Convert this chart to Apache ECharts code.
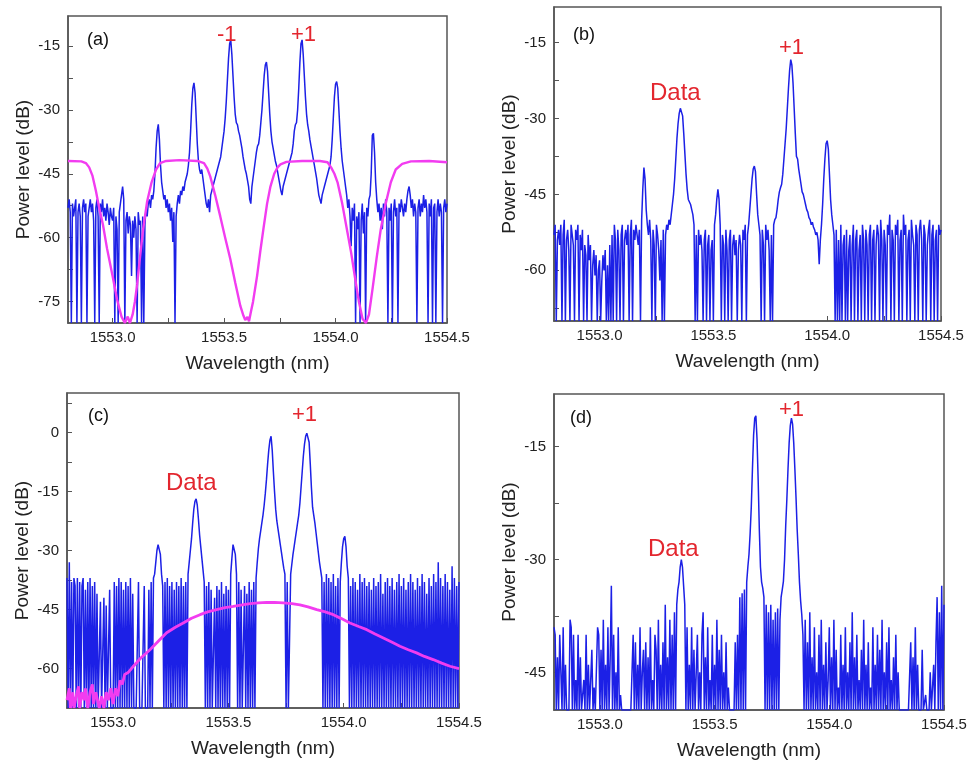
<!DOCTYPE html>
<html><head><meta charset="utf-8">
<script src="https://cdn.jsdelivr.net/npm/echarts@6/dist/echarts.min.js"></script>
<style>html,body{margin:0;padding:0;background:#fff}#c{width:973px;height:765px}</style>
</head><body><div id="c"></div>
<script>
// Wavelength grid of the sampled spectra (nm)
const lambdaStart = 1552.8, lambdaStep = 0.005;
const xLabelValues = [1553.0, 1553.5, 1554.0, 1554.5];
const xTickValues = [1553.0, 1553.25, 1553.5, 1553.75, 1554.0, 1554.25, 1554.5];

// (a) measured spectrum, dB, one value per 0.005 nm from 1552.800
const spectrumA = [
-53,-51,-54,-80,-52,-55,-53,-51,-80,-54,-52,-55,-80,-53,-51,-54,-52,-80,-55,-53,
-51,-54,-52,-56,-80,-53,-51,-55,-80,-52,-54,-51,-55,-53,-56,-52,-54,-57,-53,-55,
-56,-53,-80,-55,-58,-80,-54,-52,-50,-48,-51,-80,-56,-54,-59,-55,-57,-69,-56,-60,
-55,-58,-80,-54,-57,-56,-80,-55,-80,-57,-53,-55,-52,-51,-53,-50,-51,-49,-45,-39,
-35,-33.4,-37,-43,-47,-49,-51,-50,-53,-51,-54,-52,-56,-53,-61,-54,-80,-55,-52,-50,
-52,-49,-50,-48,-49,-47,-46,-45,-43,-40,-35,-29,-25,-23.7,-26,-32,-38,-42,-44,-45,
-44,-46,-48,-50,-52,-53,-51,-54,-50,-49,-48,-47,-46,-45,-44,-43,-42,-41,-39,-37,
-35,-32,-28,-23,-18,-14.5,-13.6,-17,-22,-27,-31,-33,-33.5,-35,-36,-37.5,-39,-41,-42.5,-44,
-45,-46.5,-48,-51,-52,-48,-46,-44,-42,-40,-38.5,-38,-36,-33,-30,-26,-22,-19.5,-18.8,-21,
-26,-31,-35,-37.5,-39,-40.5,-42,-43,-44.5,-46,-47.5,-49,-50,-48,-47,-46,-45,-44,-43,-42,
-41,-40,-38,-35,-33.5,-33,-30,-25,-19,-14.5,-13.6,-17,-22,-27,-31,-33.5,-35,-37,-38.5,-40,
-41.5,-43,-44.5,-46,-48,-50,-51,-52,-50,-49,-48,-47,-46,-45,-44,-43,-41,-37,-32,-27,
-24,-23.4,-25,-30,-35,-39,-42,-44,-46,-48,-50,-53,-51,-55,-62,-53,-56,-52,-80,-55,
-58,-54,-80,-56,-52,-59,-54,-80,-53,-55,-51,-50,-45,-36,-35.5,-40,-47,-51,-54,-52,
-56,-53,-58,-52,-55,-51,-54,-80,-53,-56,-52,-80,-54,-51,-55,-53,-80,-52,-54,-51,
-53,-55,-52,-54,-51,-49,-48,-50,-53,-51,-55,-52,-54,-80,-53,-51,-55,-52,-54,-50,
-53,-51,-54,-80,-52,-55,-51,-80,-53,-52,-80,-54,-51,-55,-52,-54,-80,-53,-51,-54,
-52];

// (a) filter transmission [nm, dB]
const filterA = [[1552.80,-42],[1552.86,-42.1],[1552.88,-42.5],[1552.895,-43.5],[1552.91,-45.5],[1552.925,-49],[1552.94,-53],[1552.957,-57],[1552.975,-62.5],[1553.0,-69],[1553.02,-74.5],[1553.04,-78.5],[1553.055,-80],[1553.068,-78.5],[1553.078,-80],[1553.09,-78],[1553.1,-75],[1553.11,-71],[1553.12,-66],[1553.137,-58],[1553.155,-51.5],[1553.175,-47],[1553.195,-44],[1553.213,-42.5],[1553.24,-42],[1553.30,-41.8],[1553.38,-42],[1553.41,-42.5],[1553.425,-43.8],[1553.438,-45.6],[1553.46,-50],[1553.483,-55],[1553.505,-60],[1553.528,-65],[1553.55,-70.5],[1553.573,-76],[1553.585,-78],[1553.595,-79.3],[1553.605,-78.6],[1553.612,-79.6],[1553.62,-77.5],[1553.63,-75],[1553.648,-69],[1553.663,-63],[1553.678,-57.4],[1553.693,-52],[1553.708,-48],[1553.725,-45],[1553.74,-43.5],[1553.753,-42.8],[1553.78,-42.2],[1553.85,-42],[1553.93,-42],[1553.964,-42.3],[1553.98,-43.5],[1553.995,-45],[1554.009,-47],[1554.03,-52],[1554.054,-58.9],[1554.07,-63.5],[1554.091,-70.6],[1554.105,-75],[1554.121,-79],[1554.136,-80],[1554.15,-78],[1554.166,-72],[1554.185,-64.5],[1554.203,-58],[1554.225,-52],[1554.248,-47],[1554.27,-44],[1554.299,-42.7],[1554.338,-42.1],[1554.42,-42],[1554.5,-42.3]];

// (b) measured spectrum
const spectrumB = [
-53,-51,-70,-54,-52,-55,-51,-70,-53,-50,-70,-54,-52,-56,-70,-51,-53,-55,-70,-52,
-54,-51,-70,-53,-56,-52,-70,-55,-57,-70,-53,-58,-55,-70,-59,-56,-61,-57,-70,-60,
-58,-70,-62,-57,-60,-56,-70,-59,-70,-55,-70,-53,-70,-51,-54,-70,-52,-56,-70,-53,
-51,-70,-54,-52,-55,-51,-70,-53,-50,-70,-52,-54,-51,-53,-55,-52,-70,-50,-44,-39.7,
-42,-48,-51,-53,-50,-54,-70,-52,-55,-70,-51,-53,-56,-62,-54,-70,-52,-70,-53,-51,
-52,-50,-51,-49,-47,-45,-42,-38,-34,-31,-29,-28,-27.8,-29.5,-33,-37,-41,-44,-46,-46.3,
-47,-48,-49,-51,-70,-53,-70,-52,-55,-53,-56,-70,-54,-52,-70,-55,-53,-70,-56,-54,
-70,-51,-49,-46,-44,-46,-51,-70,-53,-55,-70,-52,-56,-70,-54,-52,-70,-55,-53,-57,
-54,-70,-56,-53,-55,-70,-52,-54,-51,-70,-53,-51,-48,-45,-42,-40,-39.4,-40.5,-45,-49,
-51,-53,-70,-52,-55,-70,-51,-54,-52,-56,-70,-53,-70,-51,-50,-49.6,-48,-46,-44.5,-43.7,
-43,-41,-38,-35,-32,-28,-24,-20.5,-18.4,-19.5,-23,-28,-33,-37.5,-38,-40,-41.5,-43,-44.5,-45,
-46,-47,-48,-48.5,-49.6,-50,-51,-50.5,-51.5,-52,-53,-52.5,-54,-58.8,-54,-51,-47,-42,-38,-35,
-34.4,-36,-41,-46,-49,-51,-53,-70,-52,-70,-54,-70,-51,-70,-55,-53,-70,-52,-70,-56,
-53,-70,-55,-51,-70,-54,-52,-70,-56,-53,-70,-51,-54,-70,-52,-55,-70,-53,-51,-70,
-54,-52,-70,-55,-51,-53,-70,-50,-54,-70,-52,-55,-70,-51,-53,-49,-70,-52,-54,-70,
-51,-53,-50,-70,-54,-52,-70,-49,-53,-51,-70,-54,-52,-70,-50,-53,-55,-70,-51,-53,
-70,-52,-50,-54,-70,-51,-53,-70,-55,-52,-50,-70,-53,-51,-70,-54,-52,-70,-51,-53,
-52];

// (c) measured spectrum
const spectrumC = [
-37,-70,-33,-70,-38,-70,-37,-39,-70,-37,-70,-38,-70,-39,-37,-70,-40,-70,-38,-70,
-37,-70,-39,-70,-38,-70,-41,-70,-70,-43,-70,-70,-42,-70,-44,-70,-70,-40,-70,-70,
-70,-38,-70,-39,-70,-37,-70,-38,-70,-40,-70,-38,-70,-39,-70,-37,-70,-41,-70,-70,
-70,-70,-38,-70,-70,-70,-70,-39,-70,-70,-70,-40,-70,-38,-70,-37,-36,-33,-30,-28.5,
-28.5,-31,-36,-39,-70,-38,-70,-37,-70,-39,-70,-38,-70,-40,-70,-38,-70,-39,-70,-37,
-70,-39,-70,-38,-70,-36,-33,-30,-27,-23,-19.5,-17.5,-16.9,-18.5,-22,-26,-29,-32,-35,-38,
-70,-39,-70,-38,-70,-40,-70,-70,-42,-70,-39,-70,-40,-70,-38,-70,-41,-70,-39,-70,
-40,-70,-36,-32,-28.5,-28,-31,-36,-70,-38,-70,-40,-70,-70,-39,-70,-41,-70,-38,-70,
-40,-70,-38,-70,-37,-33,-29.5,-27,-25,-23,-21,-18.5,-15.5,-12,-8,-4.5,-2,-1,-4.5,-10,
-15,-19.5,-22.5,-24.5,-26.5,-28.5,-30.5,-32.5,-34.5,-36,-70,-38,-70,-70,-36,-33.5,-31,-29,-27,-25,
-23,-21,-18,-14,-10,-6,-3,-1,-0.2,0,-2.5,-8,-14,-19,-21,-23,-25.5,-28,-30.5,-33,
-35,-37,-70,-38,-70,-36,-70,-37,-70,-38,-70,-36,-70,-39,-70,-37,-70,-38,-33,-29,
-27,-26.4,-29,-34,-37,-70,-39,-70,-37,-70,-38,-70,-40,-70,-36,-70,-38,-70,-37,-70,
-39,-70,-38,-70,-40,-70,-37,-70,-39,-70,-38,-70,-36,-70,-41,-70,-38,-70,-37,-70,
-39,-70,-37,-70,-40,-70,-38,-70,-36,-70,-39,-70,-37,-70,-40,-70,-38,-70,-36,-70,
-38,-70,-40,-70,-37,-70,-39,-70,-36,-70,-38,-70,-41,-70,-37,-70,-39,-70,-36,-70,
-38,-70,-33,-70,-37,-70,-39,-70,-36,-70,-38,-70,-40,-70,-34,-70,-37,-70,-39,-70,
-38];

// (c) pump / filter curve [nm, dB]
const filterC = [[1552.80,-68],[1552.81,-65],[1552.815,-70],[1552.825,-66],[1552.83,-70],[1552.84,-67],[1552.85,-64.5],[1552.855,-70],[1552.865,-66],[1552.875,-68],[1552.88,-65],[1552.89,-70],[1552.9,-66],[1552.91,-64],[1552.915,-69],[1552.925,-66],[1552.94,-70],[1552.95,-67],[1552.96,-70],[1552.97,-66],[1552.98,-68],[1552.99,-65],[1553.0,-69],[1553.01,-65],[1553.02,-67],[1553.03,-63],[1553.04,-64],[1553.05,-61.5],[1553.065,-61],[1553.088,-59.4],[1553.12,-57.3],[1553.16,-55.2],[1553.2,-52.8],[1553.232,-50.9],[1553.27,-49.5],[1553.304,-48.4],[1553.34,-47.2],[1553.377,-46.3],[1553.41,-45.6],[1553.449,-45],[1553.485,-44.5],[1553.521,-44.2],[1553.56,-43.8],[1553.594,-43.5],[1553.63,-43.3],[1553.666,-43.2],[1553.7,-43.2],[1553.738,-43.3],[1553.775,-43.5],[1553.81,-43.8],[1553.845,-44.3],[1553.883,-45],[1553.92,-45.6],[1553.955,-46.3],[1553.99,-47.3],[1554.027,-48.4],[1554.065,-49.3],[1554.1,-50.1],[1554.136,-51.2],[1554.172,-52.2],[1554.21,-53.3],[1554.244,-54.3],[1554.28,-55.2],[1554.316,-56],[1554.35,-56.9],[1554.388,-57.7],[1554.425,-58.6],[1554.461,-59.4],[1554.5,-60]];

// (d) measured spectrum
const spectrumD = [
-39,-40,-50,-43,-50,-40,-45,-50,-39,-50,-44,-50,-50,-50,-38,-39,-50,-40,-50,-46,
-50,-40,-50,-43,-50,-50,-46,-50,-40,-50,-44,-50,-50,-42,-50,-47,-50,-50,-39,-40,
-50,-42,-50,-38,-50,-44,-50,-39,-50,-43,-33.5,-50,-40,-50,-45,-50,-39,-50,-48,-50,
-50,-50,-50,-50,-50,-50,-50,-50,-50,-40,-50,-41,-50,-44,-50,-39,-50,-45,-42,-50,
-41,-50,-43,-50,-39,-50,-46,-50,-40,-42,-50,-38,-50,-44,-50,-41,-50,-36,-50,-43,
-50,-38,-50,-40,-50,-37,-50,-36,-34,-33,-31,-30,-31,-33.5,-36,-50,-39,-50,-44,-50,
-39,-50,-42,-50,-50,-40,-50,-45,-50,-40,-37,-50,-43,-50,-39,-50,-46,-50,-40,-50,
-44,-50,-38,-50,-42,-50,-40,-50,-45,-50,-41,-50,-47,-50,-50,-50,-50,-50,-41,-50,
-40,-50,-35,-50,-34.5,-50,-34,-50,-33,-31,-29.3,-26.5,-23,-18,-13.5,-11.2,-10.9,-14,-19.5,-26,
-31,-33,-33.8,-35,-50,-36,-50,-37,-50,-36,-50,-38,-50,-37,-50,-36.5,-50,-38,-35,-34,
-32.9,-30,-25.5,-22,-18,-14.5,-12.2,-11.2,-12,-14.5,-18,-21.8,-26,-29.3,-33,-35.5,-37.3,-40,-50,-38,
-50,-41,-50,-37,-50,-43,-50,-39,-50,-45,-50,-40,-50,-38,-50,-44,-50,-41,-50,-46,
-39,-50,-43,-50,-38,-50,-42,-50,-47,-50,-40,-50,-44,-50,-39,-50,-45,-50,-41,-50,
-37,-50,-43,-50,-40,-50,-46,-50,-42,-50,-38,-50,-44,-50,-41,-50,-47,-50,-39,-50,
-44,-50,-40,-50,-42,-50,-38,-50,-45,-50,-41,-50,-39,-50,-46,-50,-43,-50,-40,-50,
-45,-50,-50,-50,-50,-50,-50,-50,-50,-50,-50,-41,-50,-43,-50,-39,-50,-44,-50,-50,
-50,-42,-50,-50,-48,-50,-50,-50,-45,-50,-50,-44,-50,-41,-35,-50,-37,-50,-33.5,-50,
-36];

// Y-axis ranges and tick labels per panel
const yRanges = [[-80,-8],[-70,-8],[-70,10],[-50,-8]];
const yLabelValues = [[-75,-60,-45,-30,-15],[-60,-45,-30,-15],[-60,-45,-30,-15,0],[-45,-30,-15]];
const yTickValues = [
  [-75,-67.5,-60,-52.5,-45,-37.5,-30,-22.5,-15],
  [-67.5,-60,-52.5,-45,-37.5,-30,-22.5,-15],
  [-67.5,-60,-52.5,-45,-37.5,-30,-22.5,-15,-7.5,0,7.5],
  [-45,-37.5,-30,-22.5,-15]
];
const panelLetters = ['(a)','(b)','(c)','(d)'];

const FONT = '"Liberation Sans", Arial, sans-serif';
const BLUE = '#1c20e6', MAGENTA = '#f23cf0', RED = '#e3262e';
const grids = [
  {left:68, top:16, width:379, height:307},
  {left:554, top:7, width:387, height:314},
  {left:67, top:393, width:392, height:315},
  {left:554, top:394, width:390, height:316}
];
function toPts(arr){ return arr.map((v,i)=>[+(lambdaStart + i*lambdaStep).toFixed(3), v]); }

const xAxis = [], yAxis = [];
grids.forEach((g,k)=>{
  xAxis.push({
    type:'value', gridIndex:k, min:1552.8, max:1554.5,
    name:'Wavelength (nm)', nameLocation:'middle', nameGap:31,
    nameTextStyle:{fontSize:19, fontFamily:FONT, color:'#222'},
    axisLine:{show:true, onZero:false, lineStyle:{color:'#555', width:1.5}},
    axisTick:{show:true, inside:true, length:5, customValues:xTickValues, lineStyle:{color:'#555'}},
    axisLabel:{customValues:xLabelValues, formatter:v=>Number(v).toFixed(1), fontSize:15, fontFamily:FONT, color:'#222', margin:7},
    splitLine:{show:false}
  });
  yAxis.push({
    type:'value', gridIndex:k, min:yRanges[k][0], max:yRanges[k][1],
    name:'Power level (dB)', nameLocation:'middle', nameGap:35, nameRotate:90,
    nameTextStyle:{fontSize:19, fontFamily:FONT, color:'#222'},
    axisLine:{show:true, onZero:false, lineStyle:{color:'#555', width:1.5}},
    axisTick:{show:true, inside:true, length:5, customValues:yTickValues[k], lineStyle:{color:'#555'}},
    axisLabel:{customValues:yLabelValues[k], fontSize:15, fontFamily:FONT, color:'#222', margin:8},
    splitLine:{show:false}
  });
});

function line(data, k, color, width, z){
  return {type:'line', xAxisIndex:k, yAxisIndex:k, data:data, symbol:'none', showSymbol:false,
    lineStyle:{color:color, width:width}, clip:true, z:z, silent:true, animation:false};
}
const series = [
  line(toPts(spectrumA),0,BLUE,1.5,2),
  line(filterA,0,MAGENTA,2.4,3),
  line(toPts(spectrumB),1,BLUE,1.5,2),
  line(toPts(spectrumC),2,BLUE,1.5,2),
  line(filterC,2,MAGENTA,2.8,3),
  line(toPts(spectrumD),3,BLUE,1.5,2)
];

function txt(x,y,t,size,color){
  return {type:'text', x:x, y:y, z:10, style:{text:t, fontSize:size, fontFamily:FONT, fill:color, align:'left', verticalAlign:'middle'}};
}
const graphic = [
  txt(87,40,panelLetters[0],18,'#111'), txt(217,35,'-1',22,RED), txt(291,35,'+1',22,RED),
  txt(573,35,panelLetters[1],18,'#111'), txt(650,93,'Data',24,RED), txt(779,48,'+1',22,RED),
  txt(88,416,panelLetters[2],18,'#111'), txt(292,415,'+1',22,RED), txt(166,483,'Data',24,RED),
  txt(570,418,panelLetters[3],18,'#111'), txt(779,410,'+1',22,RED), txt(648,549,'Data',24,RED)
];

const chart = echarts.init(document.getElementById('c'), null, {renderer:'canvas'});
chart.setOption({
  animation:false,
  backgroundColor:'#fff',
  grid: grids.map(g=>Object.assign({show:true, borderColor:'#555', borderWidth:1.5, backgroundColor:'transparent'}, g)),
  xAxis:xAxis, yAxis:yAxis, series:series, graphic:graphic
});
</script></body></html>
